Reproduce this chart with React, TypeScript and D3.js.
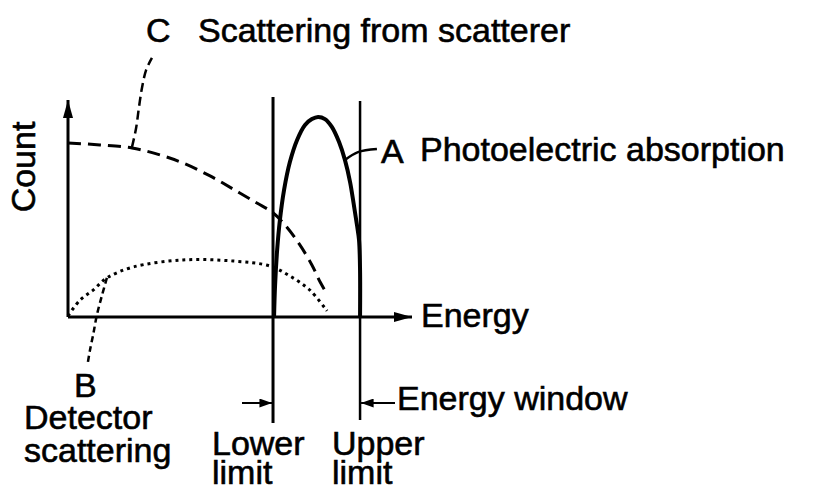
import React from 'react'
import * as d3 from 'd3'

// energy / count in arbitrary units (axis origin = 0,0; arrow tips = 100)
const photoPeakA = [
  [59.9, 0], [60.2, 14.7], [60.8, 30.9], [61.6, 44.7], [62.8, 58.5], [64.5, 71.4],
  [66.6, 81.6], [68.9, 88.5], [70.9, 91.2], [72.7, 92.2], [74.7, 91.2], [76.7, 87.6],
  [78.8, 80.6], [80.5, 72.4], [82.0, 62.2], [83.1, 51.6], [84.0, 42.4], [84.6, 35.5],
  [84.9, 21.7], [84.9, 0],
]
const scattererC = [
  [0, 80.2], [9.3, 79.3], [18.6, 77.9], [26.7, 74.7], [33.4, 71.0], [41.3, 65.0],
  [48.5, 58.5], [54.9, 52.5], [59.3, 48.4], [63.1, 42.4], [67.4, 33.2], [70.9, 24.0],
  [73.3, 16.1], [75.3, 10.6],
]
const detectorB = [
  [0, 0.5], [3.5, 7.8], [7.3, 12.4], [11.3, 18.0], [18.9, 23.0], [33.4, 26.3],
  [48.0, 25.8], [58.7, 23.5], [64.5, 18.9], [70.3, 12.4], [75.3, 2.8],
]
const leaderC = [[18.6, 78.3], [19.8, 87.1], [20.6, 96.3], [21.5, 105.5], [22.7, 113.8], [24.4, 119.4]]
const leaderB = [[11.3, 18.0], [9.9, 10.1], [8.4, 0.9], [7.3, -8.3], [6.4, -15.2], [5.8, -20.7]]
const leaderA = [[80.5, 72.4], [84.3, 76.0], [89.8, 77.4]]
const windowLimits = { lower: 59.6, upper: 84.9 }

export default function App() {
  const W = 816, H = 491
  const x = d3.scaleLinear().domain([0, 100]).range([68, 412])
  const y = d3.scaleLinear().domain([0, 100]).range([317, 100])
  const line = d3.line<number[]>().x(d => x(d[0])).y(d => y(d[1])).curve(d3.curveCatmullRom.alpha(0.5))
  const font = { fontFamily: '"Liberation Sans", Arial, sans-serif', fontSize: 34, fill: '#000', stroke: '#000', strokeWidth: 0.6 }
  const xl = x(windowLimits.lower), xu = x(windowLimits.upper)

  return (
    <svg width={W} height={H} style={{ position: 'absolute', left: 0, top: 0, background: '#fff' }}>
      <defs>
        <marker id="tri" viewBox="0 0 14 10" refX="14" refY="5" markerWidth="14" markerHeight="9" markerUnits="userSpaceOnUse" orient="auto">
          <path d="M0,0 L14,5 L0,10 z" fill="#000" />
        </marker>
        <marker id="axtri" viewBox="0 0 18 10" refX="18" refY="5" markerWidth="18" markerHeight="10" markerUnits="userSpaceOnUse" orient="auto">
          <path d="M0,0 L18,5 L0,10 z" fill="#000" />
        </marker>
      </defs>
      {/* axes */}
      <line x1={x(0)} y1={y(0)} x2={x(0)} y2={y(100)} stroke="#000" strokeWidth={3} markerEnd="url(#axtri)" />
      <line x1={x(0)} y1={y(0)} x2={x(100)} y2={y(0)} stroke="#000" strokeWidth={3} markerEnd="url(#axtri)" />
      {/* energy window */}
      <line x1={xl} y1={97} x2={xl} y2={423} stroke="#000" strokeWidth={3} />
      <line x1={xu} y1={101} x2={xu} y2={420} stroke="#000" strokeWidth={2.5} />
      <line x1={242} y1={403} x2={xl - 1} y2={403} stroke="#000" strokeWidth={2} markerEnd="url(#tri)" />
      <line x1={395} y1={403} x2={xu + 1} y2={403} stroke="#000" strokeWidth={2} markerEnd="url(#tri)" />
      {/* curves */}
      <path d={line(scattererC) ?? ''} fill="none" stroke="#000" strokeWidth={3} strokeDasharray="13 7" />
      <path d={line(detectorB) ?? ''} fill="none" stroke="#000" strokeWidth={3} strokeDasharray="3 4" />
      <path d={line(photoPeakA) ?? ''} fill="none" stroke="#000" strokeWidth={4} />
      {/* leaders */}
      <path d={line(leaderC) ?? ''} fill="none" stroke="#000" strokeWidth={2.5} strokeDasharray="9 5" />
      <path d={line(leaderB) ?? ''} fill="none" stroke="#000" strokeWidth={2.5} strokeDasharray="6 4" />
      <path d={line(leaderA) ?? ''} fill="none" stroke="#000" strokeWidth={2.5} />
      {/* labels */}
      <text x={35} y={167} transform="rotate(-90 35 167)" textAnchor="middle" {...font}>Count</text>
      <text x={146} y={42} {...font}>C</text>
      <text x={198} y={42} {...font}>Scattering from scatterer</text>
      <text x={381} y={163} {...font}>A</text>
      <text x={420} y={161} {...font}>Photoelectric absorption</text>
      <text x={421} y={327} {...font}>Energy</text>
      <text x={397} y={410} {...font}>Energy window</text>
      <text x={74} y={397} {...font}>B</text>
      <text x={24} y={429} {...font}>Detector</text>
      <text x={24} y={462} {...font}>scattering</text>
      <text x={212} y={455} {...font}>Lower</text>
      <text x={212} y={484} {...font}>limit</text>
      <text x={332} y={455} {...font}>Upper</text>
      <text x={332} y={484} {...font}>limit</text>
    </svg>
  )
}
